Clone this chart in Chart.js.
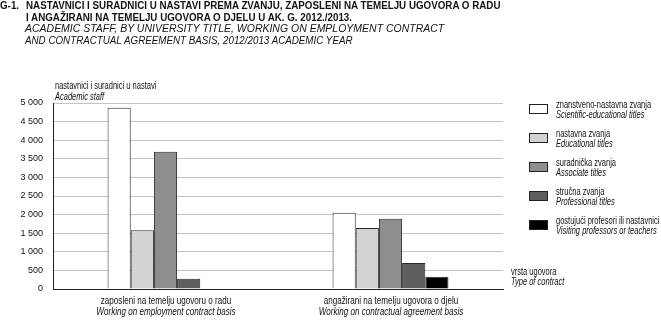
<!DOCTYPE html>
<html>
<head>
<meta charset="utf-8">
<script src="https://cdn.jsdelivr.net/npm/chart.js@4.4.0/dist/chart.umd.min.js"></script>
<style>
  html, body { margin: 0; padding: 0; background: #fff; }
  body { width: 661px; height: 320px; position: relative; overflow: hidden;
         font-family: "Liberation Sans", Arial, sans-serif; color: #111; }
  #wrap { position: absolute; left: 0; top: 0; width: 661px; height: 320px; }
  .t { position: absolute; white-space: nowrap; line-height: 1; transform-origin: 0 0; }
  .title { font-size: 11px; font-weight: bold; transform: scaleX(0.89); }
  .sub { font-size: 11px; font-style: italic; }
  .small { font-size: 10px; transform: scaleX(0.75); }
  .it { font-style: italic; }
  .box { position: absolute; width: 17px; height: 8px; border: 1px solid #222; }
  .cat { position: absolute; text-align: center; white-space: nowrap; font-size: 10.5px; line-height: 10.5px;
         transform-origin: 50% 0; transform: translateX(-50%) scaleX(0.77); }
</style>
</head>
<body>
<div id="wrap"><canvas id="c" width="661" height="320"></canvas></div>
<div class="t title" style="left:0px; top:0px;">G-1.</div>
<div class="t title" style="left:26px; top:0px;">NASTAVNICI I SURADNICI U NASTAVI PREMA ZVANJU, ZAPOSLENI NA TEMELJU UGOVORA O RADU</div>
<div class="t title" style="left:26px; top:12px;">I ANGAŽIRANI NA TEMELJU UGOVORA O DJELU U AK. G. 2012./2013.</div>
<div class="t sub" style="left:25px; top:23px; transform: scaleX(0.953);">ACADEMIC STAFF, BY UNIVERSITY TITLE, WORKING ON EMPLOYMENT CONTRACT</div>
<div class="t sub" style="left:25px; top:35px; transform: scaleX(0.89);">AND CONTRACTUAL AGREEMENT BASIS, 2012/2013 ACADEMIC YEAR</div>
<div class="t small" style="left:55px; top:81px;">nastavnici i suradnici u nastavi</div>
<div class="t small it" style="left:55px; top:92px;">Academic staff</div>
<div class="t small" style="left:511px; top:267px;">vrsta ugovora</div>
<div class="t small it" style="left:511px; top:277px;">Type of contract</div>
<div id="legend"></div>
<div id="cats"></div>
<script>
const categories = ["zaposleni na temelju ugovoru o radu", "angažirani na temelju ugovora o djelu"];
const categoriesEn = ["Working on employment contract basis", "Working on contractual agreement basis"];
const seriesNames = ["znanstveno-nastavna zvanja", "nastavna zvanja", "suradnička zvanja", "stručna zvanja", "gostujući profesori ili nastavnici"];
const seriesNamesEn = ["Scientific-educational titles", "Educational titles", "Associate titles", "Professional titles", "Visiting professors or teachers"];
const scientificEducational = [4870, 2050];
const educational = [1580, 1640];
const associate = [3690, 1890];
const professional = [275, 700];
const visiting = [15, 330];
const yTicks = [0, 500, 1000, 1500, 2000, 2500, 3000, 3500, 4000, 4500, 5000];
const colors = ["#ffffff", "#d2d2d2", "#8e8e8e", "#5e5e5e", "#000000"];

const seriesValues = [scientificEducational, educational, associate, professional, visiting];
const datasets = seriesValues.map((v, i) => ({
  label: seriesNames[i],
  data: v,
  backgroundColor: colors[i],
  borderColor: "#2a2a2a",
  borderWidth: 1,
  borderSkipped: "bottom",
  categoryPercentage: 0.515,
  barPercentage: 1.0
}));

const fmt = v => String(v).replace(/\B(?=(\d{3})+(?!\d))/g, " ");

const chart = new Chart(document.getElementById("c"), {
  type: "bar",
  data: { labels: categories, datasets },
  options: {
    responsive: false,
    animation: false,
    devicePixelRatio: 1,
    layout: { padding: { left: 0, right: 158, top: 103, bottom: 31 } },
    plugins: { legend: { display: false }, tooltip: { enabled: false }, title: { display: false } },
    scales: {
      x: {
        grid: { display: false },
        border: { display: true, color: "#222", width: 1 },
        ticks: { display: false },
        afterFit: s => { s.height = 0; }
      },
      y: {
        min: 0, max: 5000,
        afterBuildTicks: s => { s.ticks = yTicks.map(v => ({ value: v })); },
        afterFit: s => { s.width = 53; },
        grid: { color: "#c4c4c4", lineWidth: 1, drawTicks: false },
        border: { display: true, color: "#222", width: 1 },
        ticks: { padding: 10, color: "#111", font: { family: '"Liberation Sans", Arial, sans-serif', size: 9 }, callback: v => fmt(v) }
      }
    }
  }
});

// legend
const leg = document.getElementById("legend");
const legTops = [103, 132, 161, 190, 219];
seriesNames.forEach((n, i) => {
  const b = document.createElement("div");
  b.className = "box";
  b.style.left = "529px"; b.style.top = (legTops[i] + 1) + "px";
  b.style.background = colors[i];
  leg.appendChild(b);
  const t1 = document.createElement("div");
  t1.className = "t small"; t1.style.left = "556px"; t1.style.top = (legTops[i] - 3) + "px";
  t1.textContent = n; leg.appendChild(t1);
  const t2 = document.createElement("div");
  t2.className = "t small it"; t2.style.left = "556px"; t2.style.top = (legTops[i] + 7) + "px";
  t2.textContent = seriesNamesEn[i]; leg.appendChild(t2);
});

// category labels
const cats = document.getElementById("cats");
const xs = chart.scales.x;
categories.forEach((c, i) => {
  const d = document.createElement("div");
  d.className = "cat";
  d.style.left = xs.getPixelForValue(i) + "px";
  d.style.top = "295px";
  d.innerHTML = c + "<br><i>" + categoriesEn[i] + "</i>";
  cats.appendChild(d);
});
</script>
</body>
</html>
